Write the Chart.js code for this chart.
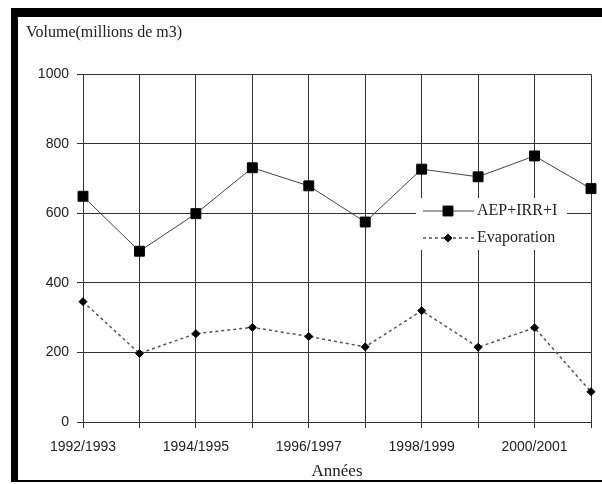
<!DOCTYPE html>
<html>
<head>
<meta charset="utf-8">
<script src="https://cdn.jsdelivr.net/npm/chart.js@4/dist/chart.umd.min.js"></script>
<style>
  html, body { margin: 0; padding: 0; background: #fff; }
  #wrap { position: absolute; left: 0; top: 0; width: 602px; height: 484px; }
  .bar { position: absolute; background: #000; }
</style>
</head>
<body>
<div class="bar" style="left:11px;top:8px;width:591px;height:9px;"></div>
<div class="bar" style="left:11px;top:8px;width:7px;height:474px;"></div>
<div class="bar" style="left:11px;top:480px;width:591px;height:2px;"></div>
<div id="wrap"><canvas id="c"></canvas></div>
<script>
const categories = ['1992/1993','1993/1994','1994/1995','1995/1996','1996/1997','1997/1998','1998/1999','1999/2000','2000/2001','2001/2002'];
const shownTickLabels = ['1992/1993','','1994/1995','','1996/1997','','1998/1999','','2000/2001',''];
const aepIrrI = [649, 491, 599, 731, 679, 575, 727, 705, 765, 671];
const evaporation = [346, 197, 254, 272, 246, 216, 320, 215, 271, 87];
const yTicks = [0, 200, 400, 600, 800, 1000];
const seriesNames = ['AEP+IRR+I', 'Evaporation'];

const serif = "'Liberation Serif', 'Times New Roman', serif";
const sans = "'Liberation Sans', Arial, sans-serif";

const legendInside = {
  id: 'legendInside',
  afterDatasetsDraw(chart) {
    const ctx = chart.ctx;
    const x0 = 416, y0 = 198, w = 151, h = 52;
    ctx.save();
    ctx.fillStyle = '#fff';
    ctx.fillRect(x0, y0, w, h);
    const rows = [211, 238];
    chart.data.datasets.forEach((ds, i) => {
      const y = rows[i];
      ctx.save();
      ctx.strokeStyle = ds.borderColor;
      ctx.lineWidth = ds.borderWidth;
      ctx.setLineDash(ds.borderDash || []);
      ctx.beginPath();
      ctx.moveTo(423, y);
      ctx.lineTo(474, y);
      ctx.stroke();
      ctx.restore();
      ctx.save();
      ctx.fillStyle = ds.pointBackgroundColor;
      ctx.strokeStyle = ds.pointBorderColor;
      ctx.lineWidth = ds.pointBorderWidth;
      Chart.helpers.drawPoint(ctx, {
        pointStyle: ds.pointStyle,
        rotation: 0,
        radius: ds.pointRadius,
        borderWidth: ds.pointBorderWidth
      }, 448, y);
      ctx.restore();
      ctx.fillStyle = '#222';
      ctx.font = '16px ' + serif;
      ctx.textBaseline = 'middle';
      ctx.textAlign = 'left';
      ctx.fillText(ds.label, 477, y);
    });
    ctx.restore();
  }
};

new Chart(document.getElementById('c'), {
  type: 'line',
  data: {
    labels: categories,
    datasets: [
      {
        label: seriesNames[0],
        data: aepIrrI,
        borderColor: '#444',
        borderWidth: 1,
        pointStyle: 'rect',
        pointRadius: 7,
        pointBackgroundColor: '#000',
        pointBorderColor: '#000',
        pointBorderWidth: 1,
        clip: false,
        tension: 0
      },
      {
        label: seriesNames[1],
        data: evaporation,
        borderColor: '#555',
        borderWidth: 1.5,
        borderDash: [3, 3],
        pointStyle: 'rectRot',
        pointRadius: 4,
        pointBackgroundColor: '#000',
        pointBorderColor: '#000',
        pointBorderWidth: 1,
        clip: false,
        tension: 0
      }
    ]
  },
  options: {
    responsive: true,
    maintainAspectRatio: false,
    animation: false,
    layout: { padding: { left: 26, right: 10, top: 0, bottom: 0 } },
    plugins: {
      legend: { display: false },
      tooltip: { enabled: false },
      title: {
        display: true,
        text: 'Volume(millions de m3)',
        align: 'start',
        color: '#222',
        font: { family: serif, size: 16, weight: 'normal' },
        padding: { top: 23, bottom: 32 }
      }
    },
    scales: {
      x: {
        offset: false,
        grid: { color: '#333', lineWidth: 1, tickLength: 6, drawTicks: true },
        border: { color: '#333', width: 1 },
        ticks: {
          autoSkip: false,
          maxRotation: 0,
          minRotation: 0,
          padding: 11,
          color: '#222',
          font: { family: sans, size: 14 },
          callback: (v, i) => shownTickLabels[i]
        },
        title: {
          display: true,
          text: 'Années',
          color: '#222',
          font: { family: serif, size: 17 },
          padding: { top: 0, bottom: 2 }
        },
        afterFit: (s) => { s.height = 62; }
      },
      y: {
        min: 0,
        max: 1000,
        afterBuildTicks: (s) => { s.ticks = yTicks.map(v => ({ value: v })); },
        grid: { color: '#333', lineWidth: 1, tickLength: 6 },
        border: { color: '#333', width: 1 },
        ticks: {
          padding: 8,
          color: '#222',
          font: { family: sans, size: 14 },
          callback: (v) => String(v)
        },
        afterFit: (s) => { s.width = 57; }
      }
    }
  },
  plugins: [legendInside]
});
</script>
</body>
</html>
